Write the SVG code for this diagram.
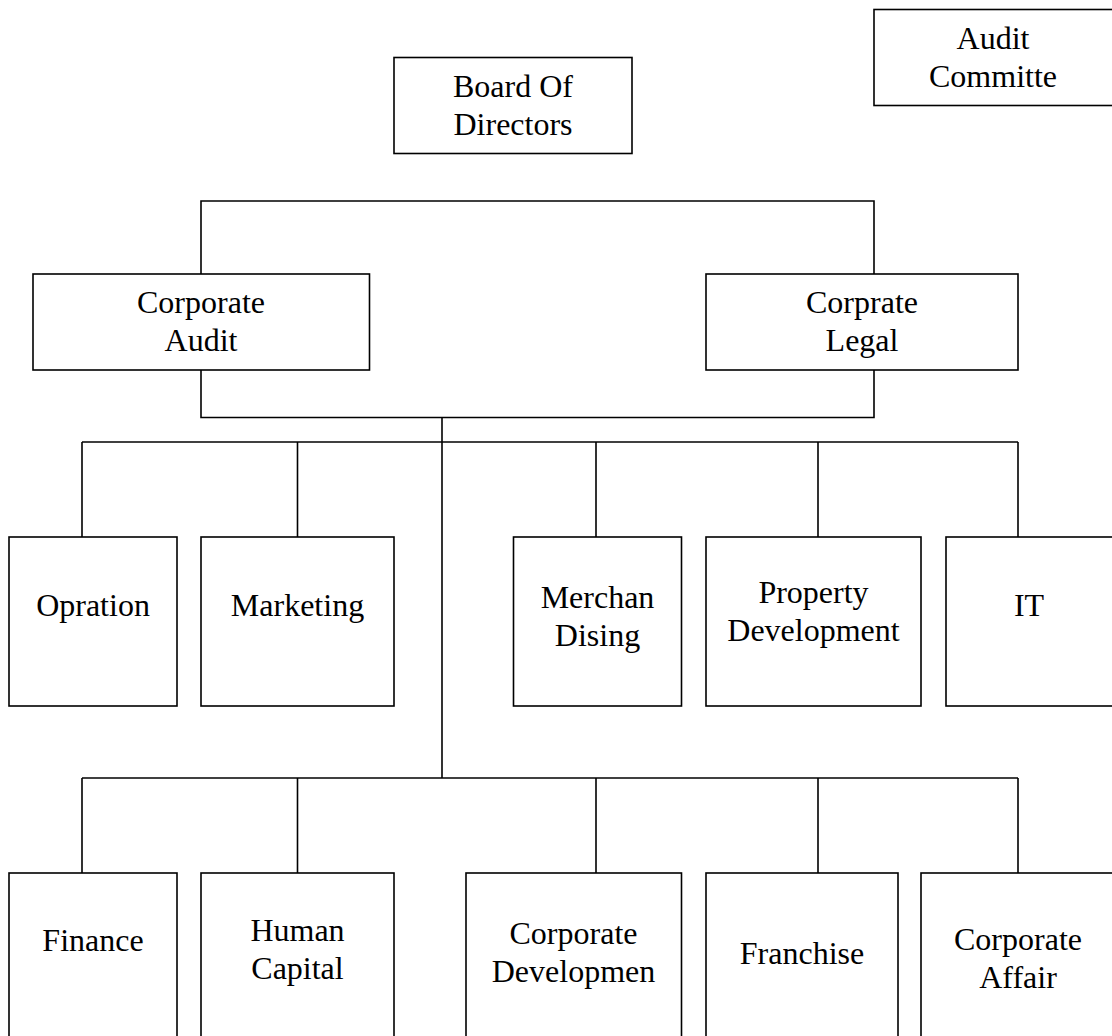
<svg xmlns="http://www.w3.org/2000/svg" width="1112" height="1036" viewBox="0 0 1112 1036">
<style>
  .box { fill: #ffffff; stroke: #000000; stroke-width: 1.6; }
  .lbl { font-family: "Liberation Serif", "Times New Roman", serif; font-size: 32px; fill: #000000; text-anchor: middle; }
  .conn { fill: none; stroke: #000000; stroke-width: 1.6; }
</style>
<rect x="0" y="0" width="1112" height="1036" fill="#ffffff"/>
<g id="connectors">
  <path class="conn" d="M201 274 V201 H874 V274"/>
  <path class="conn" d="M201 370 V417.5 H874 V370"/>
  <path class="conn" d="M442 417.5 V778"/>
  <path class="conn" d="M82 442 H1018"/>
  <path class="conn" d="M82 442 V537 M297.5 442 V537 M596 442 V537 M818 442 V537 M1018 442 V537"/>
  <path class="conn" d="M82 778 H1018"/>
  <path class="conn" d="M82 778 V873 M297.5 778 V873 M596 778 V873 M818 778 V873 M1018 778 V873"/>
</g>
<g id="audit-committe">
  <rect class="box" x="874" y="9.5" width="242" height="96"/>
  <text class="lbl" x="993" y="49">Audit</text>
  <text class="lbl" x="993" y="87">Committe</text>
</g>
<g id="board-of-directors">
  <rect class="box" x="394" y="57.5" width="238" height="96"/>
  <text class="lbl" x="513" y="97">Board Of</text>
  <text class="lbl" x="513" y="135">Directors</text>
</g>
<g id="corporate-audit">
  <rect class="box" x="33" y="274" width="336.5" height="96"/>
  <text class="lbl" x="201" y="313">Corporate</text>
  <text class="lbl" x="201" y="351">Audit</text>
</g>
<g id="corprate-legal">
  <rect class="box" x="706" y="274" width="312" height="96"/>
  <text class="lbl" x="862" y="313">Corprate</text>
  <text class="lbl" x="862" y="351">Legal</text>
</g>
<g id="opration">
  <rect class="box" x="9" y="537" width="168" height="169"/>
  <text class="lbl" x="93" y="616">Opration</text>
</g>
<g id="marketing">
  <rect class="box" x="201" y="537" width="193" height="169"/>
  <text class="lbl" x="297.5" y="616">Marketing</text>
</g>
<g id="merchandising">
  <rect class="box" x="513.5" y="537" width="168" height="169"/>
  <text class="lbl" x="597.5" y="608">Merchan</text>
  <text class="lbl" x="597.5" y="646">Dising</text>
</g>
<g id="property-development">
  <rect class="box" x="706" y="537" width="215" height="169"/>
  <text class="lbl" x="813.5" y="603">Property</text>
  <text class="lbl" x="813.5" y="641">Development</text>
</g>
<g id="it">
  <rect class="box" x="946" y="537" width="168" height="169"/>
  <text class="lbl" x="1029" y="616">IT</text>
</g>
<g id="finance">
  <rect class="box" x="9" y="873" width="168" height="170"/>
  <text class="lbl" x="93" y="951">Finance</text>
</g>
<g id="human-capital">
  <rect class="box" x="201" y="873" width="193" height="170"/>
  <text class="lbl" x="297.5" y="941">Human</text>
  <text class="lbl" x="297.5" y="979">Capital</text>
</g>
<g id="corporate-developmen">
  <rect class="box" x="466" y="873" width="215.5" height="170"/>
  <text class="lbl" x="573.5" y="944">Corporate</text>
  <text class="lbl" x="573.5" y="982">Developmen</text>
</g>
<g id="franchise">
  <rect class="box" x="706" y="873" width="192" height="170"/>
  <text class="lbl" x="802" y="964">Franchise</text>
</g>
<g id="corporate-affair">
  <rect class="box" x="921" y="873" width="196" height="170"/>
  <text class="lbl" x="1018" y="950">Corporate</text>
  <text class="lbl" x="1018" y="988">Affair</text>
</g>
</svg>
